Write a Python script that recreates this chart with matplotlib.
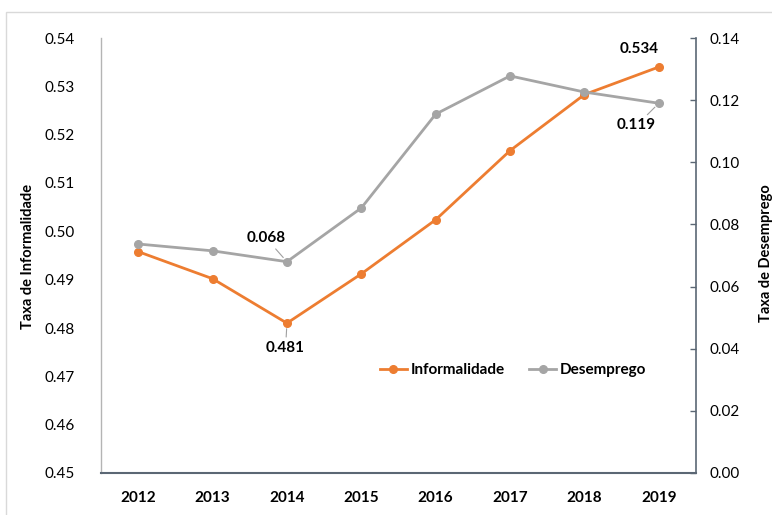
import matplotlib
matplotlib.use("Agg")
import matplotlib.pyplot as plt
from matplotlib.patches import Rectangle

plt.rcParams['font.family'] = ['Lato', 'DejaVu Sans']

years = ['2012', '2013', '2014', '2015', '2016', '2017', '2018', '2019']
informalidade = [0.4958, 0.4902, 0.481, 0.4912, 0.5024, 0.5167, 0.5283, 0.534]
desemprego = [0.0737, 0.0715, 0.068, 0.0853, 0.1155, 0.1278, 0.1226, 0.119]

left_ticks = [0.45, 0.46, 0.47, 0.48, 0.49, 0.50, 0.51, 0.52, 0.53, 0.54]
right_ticks = [0.00, 0.02, 0.04, 0.06, 0.08, 0.10, 0.12, 0.14]

ORANGE = '#ED7D31'
GRAY = '#A5A5A5'
SPINE = '#5B6774'

fig = plt.figure(figsize=(7.72, 5.15), dpi=100)
fig.patches.append(Rectangle((6 / 772, -0.1), 1.2, 1 - 12 / 515 + 0.1,
                             transform=fig.transFigure, fill=False,
                             edgecolor='#D9D9D9', linewidth=1.0))

ax = fig.add_axes([101 / 772, 1 - 473 / 515, 595 / 772, 435 / 515])
ax2 = ax.twinx()

x = list(range(len(years)))
l1, = ax.plot(x, informalidade, color=ORANGE, lw=2.0, marker='o', ms=5.5,
              label='Informalidade', zorder=3)
l2, = ax2.plot(x, desemprego, color=GRAY, lw=2.0, marker='o', ms=5.5,
               label='Desemprego', zorder=3)

ax.set_xlim(-0.5, 7.5)
ax.set_ylim(0.45, 0.54)
ax2.set_ylim(0.0, 0.14)
ax.set_xticks(x)
ax.set_xticklabels(years, fontweight='bold', fontsize=11)
ax.set_yticks(left_ticks)
ax.set_yticklabels([f'{v:.2f}' for v in left_ticks], fontsize=11)
ax2.set_yticks(right_ticks)
ax2.set_yticklabels([f'{v:.2f}' for v in right_ticks], fontsize=11)

ax.tick_params(axis='x', length=0, pad=13)
ax.tick_params(axis='y', length=0, pad=19)
ax2.tick_params(axis='y', direction='in', length=4, width=1, color=SPINE, pad=10)

for a in (ax, ax2):
    a.spines['top'].set_visible(False)
ax.spines['left'].set_color('#B4B4B4')
ax.spines['left'].set_linewidth(1.0)
ax.spines['right'].set_visible(False)
ax2.spines['left'].set_visible(False)
ax2.spines['bottom'].set_visible(False)
ax2.spines['right'].set_color(SPINE)
ax2.spines['right'].set_linewidth(1.2)
ax.spines['bottom'].set_color(SPINE)
ax.spines['bottom'].set_linewidth(1.5)

fig.text(28 / 772, 1 - 256 / 515, 'Taxa de Informalidade', rotation=90,
         ha='center', va='center', fontsize=10.5, fontweight='bold')
fig.text(766 / 772, 1 - 253 / 515, 'Taxa de Desemprego', rotation=90,
         ha='center', va='center', fontsize=10.5, fontweight='bold')

# value callouts
lead = dict(arrowstyle='-', color='#A0A0A0', lw=0.8, shrinkA=1, shrinkB=4)
ax2.annotate(f'{desemprego[2]:.3f}', xy=(2, desemprego[2]), xytext=(-15, 17),
             textcoords='offset points', ha='center', va='center',
             fontsize=11, fontweight='bold', arrowprops=lead)
ax.annotate(f'{informalidade[2]:.3f}', xy=(2, informalidade[2]), xytext=(-1, -18),
            textcoords='offset points', ha='center', va='center',
            fontsize=11, fontweight='bold', arrowprops=lead)
ax.annotate(f'{informalidade[7]:.3f}', xy=(7, informalidade[7]), xytext=(-14.5, 13),
            textcoords='offset points', ha='center', va='center',
            fontsize=11, fontweight='bold')
ax2.annotate(f'{desemprego[7]:.3f}', xy=(7, desemprego[7]), xytext=(-16, -16),
             textcoords='offset points', ha='center', va='center',
             fontsize=11, fontweight='bold', arrowprops=lead)

leg = ax.legend(handles=[l1, l2], loc='center', bbox_to_anchor=(0.692, 0.237),
                ncol=2, frameon=False, handlelength=1.8, handletextpad=0.2,
                columnspacing=1.6, prop={'weight': 'bold', 'size': 11})

fig.savefig('out.png', dpi=100)
